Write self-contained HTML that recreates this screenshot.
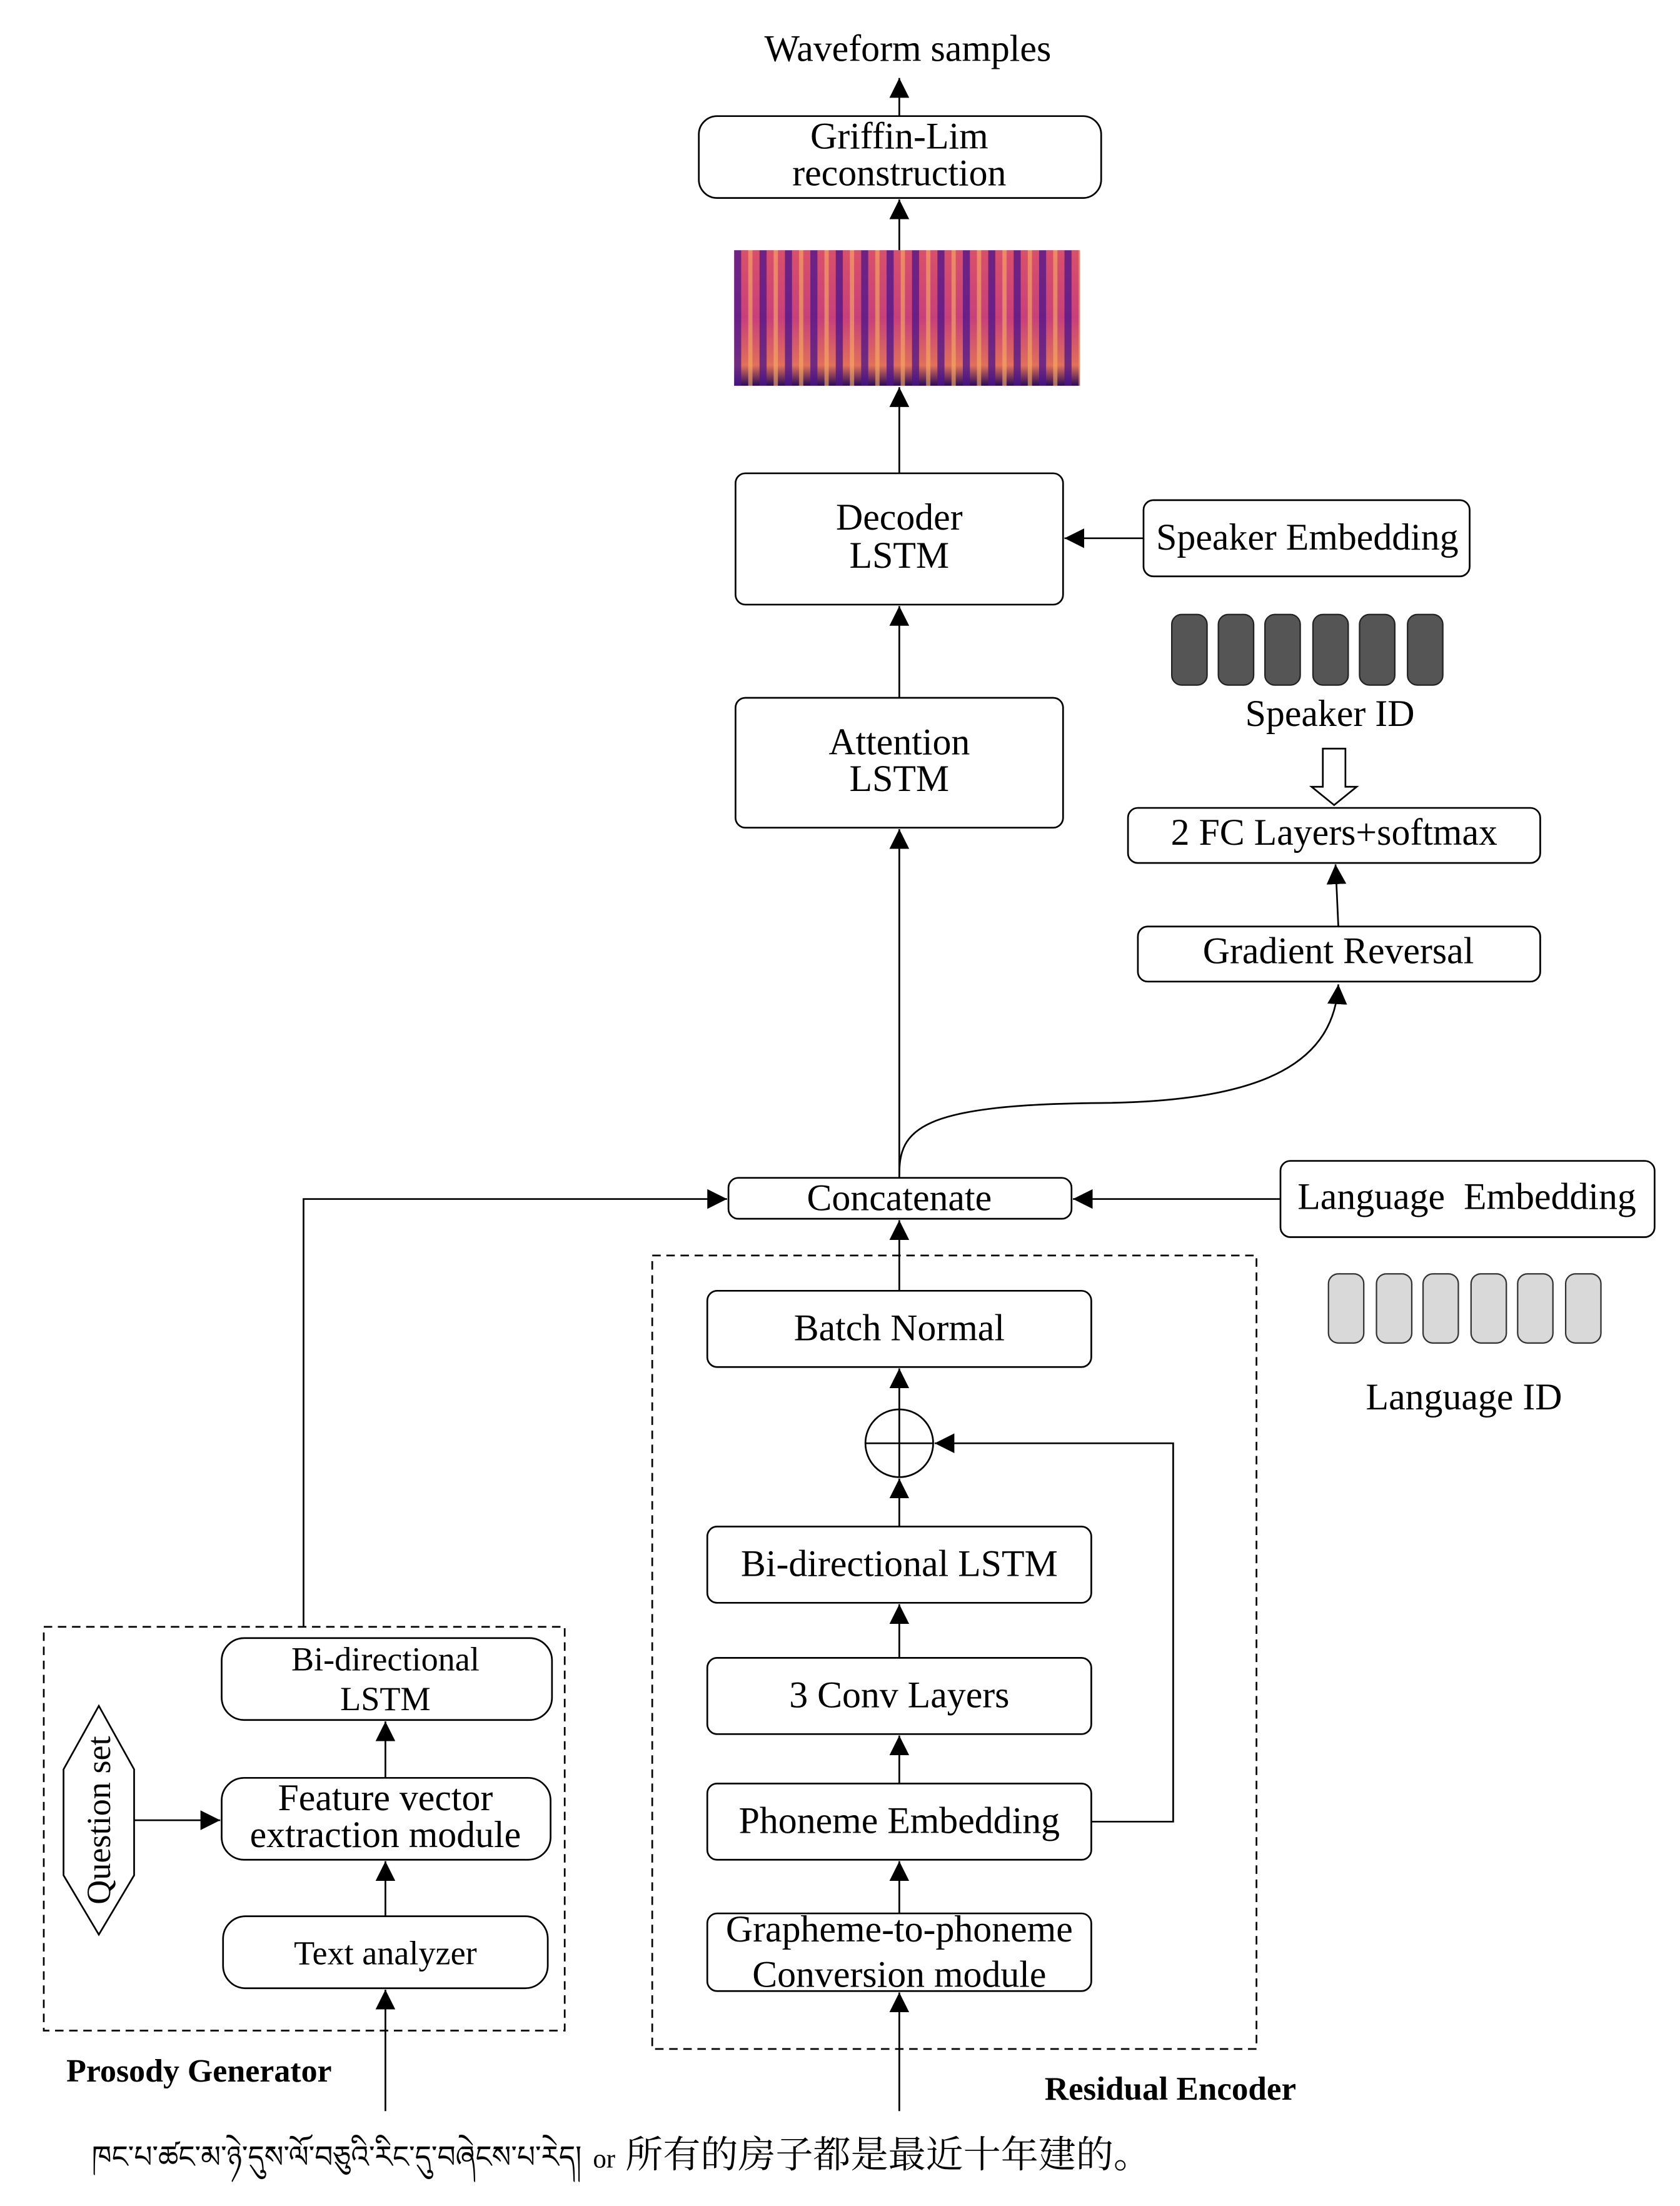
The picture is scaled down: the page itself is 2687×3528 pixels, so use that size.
<!DOCTYPE html>
<html><head><meta charset="utf-8"><style>html,body{margin:0;padding:0;background:#fff}svg{display:block}</style></head>
<body>
<svg xmlns="http://www.w3.org/2000/svg" width="2687" height="3528" viewBox="0 0 1190 1562">
<defs>
<marker id="a" viewBox="0 0 10 10" refX="10" refY="5" markerWidth="14" markerHeight="14" markerUnits="userSpaceOnUse" orient="auto"><path d="M0,0 L10,5 L0,10 z" fill="#000"/></marker>
<linearGradient id="sv" x1="0" y1="0" x2="0" y2="1">
<stop offset="0" stop-color="#d9506a"/><stop offset="0.5" stop-color="#c8407a"/><stop offset="0.85" stop-color="#e0705a"/><stop offset="1" stop-color="#2a0a5a"/></linearGradient>
<pattern id="st" width="18" height="96" patternUnits="userSpaceOnUse" x="520" y="177">
<rect width="18" height="96" fill="url(#sv)"/>
<rect x="0" width="5" height="96" fill="#4a148c" opacity="0.75"/>
<rect x="10" width="3" height="96" fill="#f9b060" opacity="0.6"/>
</pattern>
</defs>
<g font-family="'Liberation Serif','Noto Serif CJK SC',serif" font-size="26.5" fill="#000" text-anchor="middle">
<g fill="none" stroke="#000" stroke-width="1.2">
<rect x="495" y="82" width="285" height="58" rx="13"/>
<rect x="521" y="335" width="232" height="93" rx="7"/>
<rect x="810" y="354" width="231" height="54" rx="7"/>
<rect x="521" y="494" width="232" height="92" rx="7"/>
<rect x="799" y="572" width="292" height="39" rx="7"/>
<rect x="806" y="656" width="285" height="39" rx="7"/>
<rect x="516" y="834" width="243" height="29" rx="7"/>
<rect x="907" y="822" width="265" height="54" rx="7"/>
<rect x="462" y="889" width="428" height="562" stroke-dasharray="6,4"/>
<rect x="501" y="914" width="272" height="54" rx="7"/>
<circle cx="637" cy="1022" r="24"/>
<path d="M613,1022 H661 M637,998 V1046"/>
<rect x="501" y="1081" width="272" height="54" rx="7"/>
<rect x="501" y="1174" width="272" height="54" rx="7"/>
<rect x="501" y="1263" width="272" height="54" rx="7"/>
<rect x="501" y="1355" width="272" height="55" rx="7"/>
<rect x="31" y="1152" width="369" height="286" stroke-dasharray="6,4"/>
<rect x="157" y="1160" width="234" height="58" rx="16"/>
<rect x="157" y="1259" width="233" height="58" rx="16"/>
<rect x="158" y="1357" width="230" height="51" rx="16"/>
<polygon points="70,1208 95,1253 95,1328 70,1370 45,1328 45,1253"/>
<path d="M945,530 H953 V557 H961 L945,570 L929,557 H937 V530 Z"/>
</g>
<g stroke="#000" stroke-width="1.2" fill="none" marker-end="url(#a)">
<path d="M637,82 V55"/>
<path d="M637,177 V141"/>
<path d="M637,335 V274"/>
<path d="M810,381 H754"/>
<path d="M637,494 V429"/>
<path d="M637,834 V587"/>
<path d="M948,656 L946,612"/>
<path d="M637,832 C637,800 650,782 780,781 C900,780 945,750 948,697"/>
<path d="M907,849 H760"/>
<path d="M215,1152 V849 H515"/>
<path d="M637,914 V864"/>
<path d="M637,998 V969"/>
<path d="M637,1081 V1047"/>
<path d="M637,1174 V1136"/>
<path d="M637,1263 V1229"/>
<path d="M637,1355 V1318"/>
<path d="M637,1495 V1411"/>
<path d="M773,1290 H831 V1022 H662"/>
<path d="M95,1289 H156"/>
<path d="M273,1259 V1219"/>
<path d="M273,1357 V1318"/>
<path d="M273,1495 V1409"/>
</g>
<rect x="520" y="177" width="245" height="96" fill="url(#st)"/>
<g fill="#555" stroke="#222" stroke-width="1">
<rect x="830" y="435" width="25" height="50" rx="7"/><rect x="863" y="435" width="25" height="50" rx="7"/><rect x="896" y="435" width="25" height="50" rx="7"/><rect x="930" y="435" width="25" height="50" rx="7"/><rect x="963" y="435" width="25" height="50" rx="7"/><rect x="997" y="435" width="25" height="50" rx="7"/>
</g>
<g fill="#d9d9d9" stroke="#333" stroke-width="1">
<rect x="941" y="902" width="25" height="49" rx="7"/><rect x="975" y="902" width="25" height="49" rx="7"/><rect x="1008" y="902" width="25" height="49" rx="7"/><rect x="1042" y="902" width="25" height="49" rx="7"/><rect x="1075" y="902" width="25" height="49" rx="7"/><rect x="1109" y="902" width="25" height="49" rx="7"/>
</g>
<text x="643" y="43">Waveform samples</text>
<text x="637" y="105">Griffin-Lim</text>
<text x="637" y="131">reconstruction</text>
<text x="637" y="375">Decoder</text>
<text x="637" y="402">LSTM</text>
<text x="926" y="389">Speaker Embedding</text>
<text x="942" y="514">Speaker ID</text>
<text x="637" y="534">Attention</text>
<text x="637" y="560">LSTM</text>
<text x="945" y="598">2 FC Layers+softmax</text>
<text x="948" y="682">Gradient Reversal</text>
<text x="637" y="857">Concatenate</text>
<text x="1039" y="856" xml:space="preserve">Language  Embedding</text>
<text x="1037" y="998">Language ID</text>
<text x="637" y="949">Batch Normal</text>
<text x="637" y="1116">Bi-directional LSTM</text>
<text x="637" y="1209">3 Conv Layers</text>
<text x="637" y="1298">Phoneme Embedding</text>
<text x="637" y="1375">Grapheme-to-phoneme</text>
<text x="637" y="1407">Conversion module</text>
<text x="273" y="1183" font-size="24">Bi-directional</text>
<text x="273" y="1211" font-size="24">LSTM</text>
<text x="273" y="1282">Feature vector</text>
<text x="273" y="1308">extraction module</text>
<text x="273" y="1391" font-size="24">Text analyzer</text>
<text x="0" y="0" font-size="24" transform="translate(78,1289) rotate(-90)">Question set</text>
<text x="141" y="1474" font-weight="bold" font-size="23">Prosody Generator</text>
<text x="829" y="1487" font-weight="bold" font-size="23.5">Residual Encoder</text>
<text x="65" y="1535" text-anchor="start" font-size="22" textLength="347" lengthAdjust="spacingAndGlyphs">ཁང་པ་ཚང་མ་ཉེ་དུས་ལོ་བཅུའི་རིང་དུ་བཞེངས་པ་རེད།</text>
<text x="420" y="1535" text-anchor="start" font-size="19">or</text>
<text x="443" y="1535" text-anchor="start" font-size="26.6" font-family="'Noto Serif CJK SC','Noto Sans CJK SC',serif">所有的房子都是最近十年建的。</text>
</g>
</svg>
</body></html>
